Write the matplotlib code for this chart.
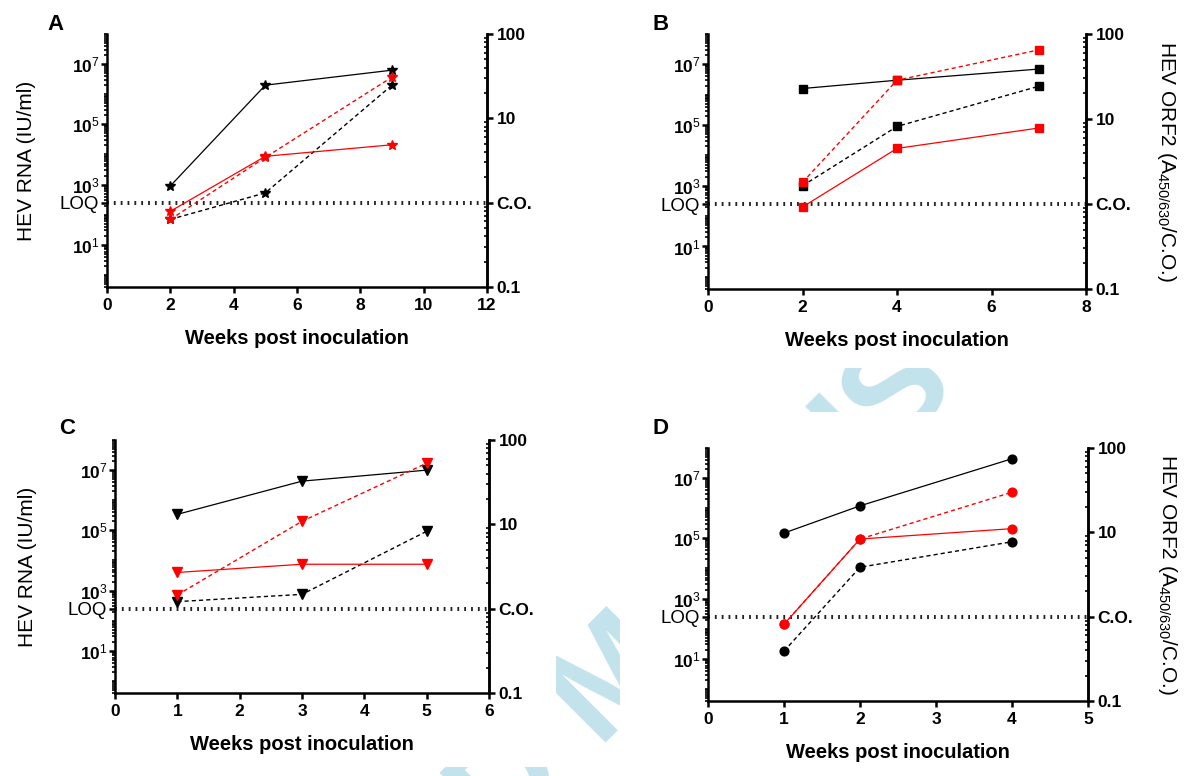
import numpy as np
import matplotlib
matplotlib.use("Agg")
import matplotlib.pyplot as plt
from matplotlib.patches import Rectangle
from matplotlib.ticker import FixedLocator, LogLocator, NullFormatter

plt.rcParams['font.family'] = ['Liberation Sans', 'DejaVu Sans']
plt.rcParams['mathtext.fontset'] = 'custom'
plt.rcParams['mathtext.rm'] = 'Liberation Sans'
plt.rcParams['mathtext.bf'] = 'Liberation Sans:bold'
plt.rcParams['mathtext.it'] = 'Liberation Sans:italic'

# --- data (HEV RNA, IU/ml) ---
LOQ = 250

weeks_a = [2, 5, 9]
a_black_solid = [900, 2.0e6, 6.3e6]
a_black_dashed = [70, 530, 2.0e6]
a_red_solid = [130, 8700, 2.1e4]
a_red_dashed = [70, 8000, 3.7e6]

weeks_b = [2, 4, 7]
b_black_solid = [1.6e6, 3.0e6, 7.0e6]
b_black_dashed = [1000, 9.0e4, 1.9e6]
b_red_solid = [200, 1.7e4, 8.0e4]
b_red_dashed = [1300, 3.0e6, 3.0e7]

weeks_c = [1, 3, 5]
c_black_solid = [3.4e5, 4.3e6, 1.0e7]
c_black_dashed = [430, 750, 9.3e4]
c_red_solid = [4000, 7500, 7500]
c_red_dashed = [720, 2.0e5, 1.7e7]

weeks_d = [1, 2, 4]
d_black_solid = [1.5e5, 1.2e6, 4.4e7]
d_black_dashed = [18, 1.1e4, 7.7e4]
d_red_solid = [140, 9.5e4, 2.1e5]
d_red_dashed = [140, 9.5e4, 3.4e6]

left_ticks = [10, 1e3, LOQ, 1e5, 1e7]
left_labels = [r'$\mathbf{10}^{\mathrm{1}}$', r'$\mathbf{10}^{\mathrm{3}}$', 'LOQ',
               r'$\mathbf{10}^{\mathrm{5}}$', r'$\mathbf{10}^{\mathrm{7}}$']
right_ticks = [0.1, 1, 10, 100]
right_labels = ['0.1', 'C.O.', '10', '100']

W, H = 1192, 776
RED = '#ff0000'
WM = '#c2e2ec'


def px(x0, x1, top, bottom):
    return [x0 / W, 1 - bottom / H, (x1 - x0) / W, (bottom - top) / H]


fig = plt.figure(figsize=(W / 100, H / 100), dpi=100)

# watermark behind the panels, only showing in the gaps between them
fig.text(618 / W, 1 - 680 / H, 'ACCEPTED MANUSCRIPT', rotation=45, rotation_mode='anchor',
         ha='center', va='center', fontsize=100, weight='bold', color=WM, zorder=-3)
for (x0, y0, x1, y1) in [(0, 0, W, 368), (0, 412, 556, 767), (620, 412, W, H)]:
    fig.add_artist(Rectangle((x0 / W, 1 - y1 / H), (x1 - x0) / W, (y1 - y0) / H,
                             transform=fig.transFigure, facecolor='white',
                             edgecolor='none', zorder=-2))


def panel(rect, weeks, bs, bd, rs, rd, marker, ms, xmax, xstep, letter, lpos,
          left_label=False, right_label=False):
    ax = fig.add_axes(rect)
    ax.set_facecolor('none')
    ax.set_yscale('log')
    ax.set_ylim(10 ** -0.4, 1e8)
    ax.set_xlim(0, xmax)

    ax.axhline(LOQ, color='#222222', lw=2.9, ls=(0, (0.45, 1.25)), zorder=1)

    dash = (0, (3, 2.2))
    ax.plot(weeks, bs, color='black', lw=0.9, marker=marker, ms=ms, zorder=3)
    ax.plot(weeks, bd, color='black', lw=1.0, ls=dash, marker=marker, ms=ms, zorder=3)
    ax.plot(weeks, rs, color=RED, lw=0.9, marker=marker, ms=ms, zorder=4)
    ax.plot(weeks, rd, color=RED, lw=1.0, ls=dash, marker=marker, ms=ms, zorder=4)

    ax.set_xticks(np.arange(0, xmax + 0.1, xstep))
    ax.set_xticklabels([str(int(v)) for v in np.arange(0, xmax + 0.1, xstep)],
                       fontsize=12.5, weight='bold')

    ax.yaxis.set_major_locator(FixedLocator(left_ticks))
    ax.set_yticklabels(left_labels, fontsize=12.5)
    for t in ax.get_yticklabels():
        if t.get_text() == 'LOQ':
            t.set_fontsize(13.5)
    ax.yaxis.set_minor_locator(LogLocator(base=10, subs=np.arange(1, 10), numticks=30))
    ax.yaxis.set_minor_formatter(NullFormatter())

    ax.tick_params(axis='both', which='major', direction='out', length=4, width=1.8,
                   color='black')
    ax.tick_params(axis='x', pad=4)
    ax.tick_params(axis='y', pad=1.5)
    ax.tick_params(axis='y', which='minor', direction='out', length=2.2, width=1.2)
    for s in ['left', 'bottom', 'right']:
        ax.spines[s].set_linewidth(1.8)
    ax.spines['top'].set_visible(False)

    ax.set_xlabel('Weeks post inoculation', fontsize=14.5, weight='bold')
    ax.xaxis.set_label_coords(0.5, -0.165)

    ax2 = ax.twinx()
    ax2.set_yscale('log')
    ax2.set_ylim(0.1, 100)
    ax2.yaxis.set_major_locator(FixedLocator(right_ticks))
    ax2.set_yticklabels(right_labels, fontsize=12.5, weight='bold')
    ax2.yaxis.set_minor_locator(LogLocator(base=10, subs=np.arange(1, 10), numticks=30))
    ax2.yaxis.set_minor_formatter(NullFormatter())
    ax2.tick_params(axis='y', which='major', direction='out', length=4, width=1.8, pad=3)
    ax2.tick_params(axis='y', which='minor', direction='in', length=2.2, width=1.2)
    for s in ['left', 'top', 'bottom']:
        ax2.spines[s].set_visible(False)
    ax2.spines['right'].set_linewidth(1.8)

    if left_label:
        ax.set_ylabel('HEV RNA (IU/ml)', fontsize=15, va='center')
        ax.yaxis.set_label_coords(left_label, 0.5)
    if right_label:
        ax2.set_ylabel(r'HEV ORF2 (A$_{\mathrm{450/630}}$/C.O.)', fontsize=15,
                       rotation=270, va='center', ha='center')
        ax2.yaxis.set_label_coords(right_label, 0.5)

    fig.text(lpos[0] / W, 1 - lpos[1] / H, letter, fontsize=16, weight='bold',
             ha='center', va='center')
    return ax


panel(px(107, 487, 34, 287), weeks_a, a_black_solid, a_black_dashed, a_red_solid,
      a_red_dashed, '*', 7.5, 12, 2, 'A', (56, 25), left_label=-0.213)
panel(px(708, 1086, 34, 289), weeks_b, b_black_solid, b_black_dashed, b_red_solid,
      b_red_dashed, 's', 5.8, 8, 2, 'B', (661, 25), right_label=1.212)
panel(px(115, 489, 440, 693), weeks_c, c_black_solid, c_black_dashed, c_red_solid,
      c_red_dashed, 'v', 6.5, 6, 1, 'C', (67, 429), left_label=-0.233)
panel(px(708, 1088, 448, 701), weeks_d, d_black_solid, d_black_dashed, d_red_solid,
      d_red_dashed, 'o', 6.3, 5, 1, 'D', (661, 429), right_label=1.21)

fig.savefig('out.png', dpi=100, facecolor='white')
